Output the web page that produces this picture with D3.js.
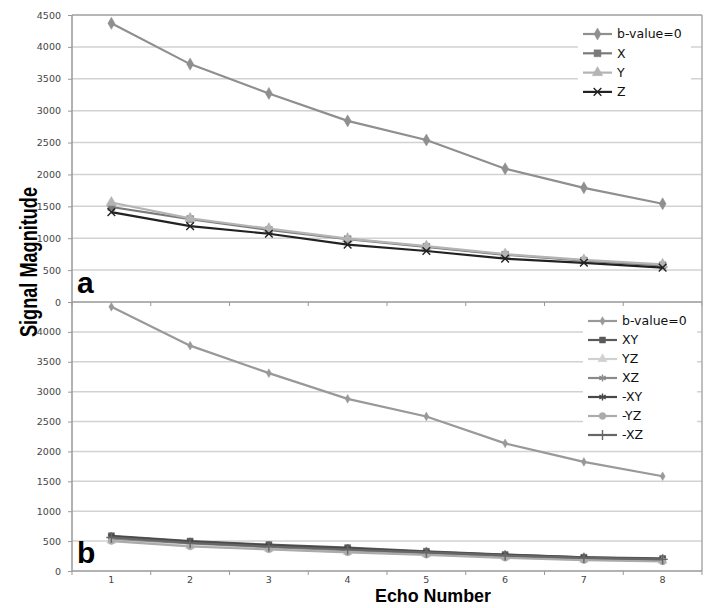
<!DOCTYPE html>
<html>
<head>
<meta charset="utf-8">
<script src="https://cdn.jsdelivr.net/npm/d3@7"></script>
<style>
  body { margin: 0; background: #fff; }
  svg { display: block; }
</style>
</head>
<body>
<div id="chart"></div>
<script>
// Données
const echoNumbers = [1, 2, 3, 4, 5, 6, 7, 8];
const yTicksA = [0, 500, 1000, 1500, 2000, 2500, 3000, 3500, 4000, 4500];
const yTicksB = [0, 500, 1000, 1500, 2000, 2500, 3000, 3500, 4000];

// panneau a
const aB0 = [4370, 3730, 3270, 2840, 2540, 2090, 1790, 1540];
const aX = [1490, 1300, 1130, 985, 865, 740, 650, 575];
const aY = [1560, 1310, 1150, 995, 875, 750, 660, 590];
const aZ = [1410, 1190, 1070, 900, 800, 680, 615, 540];

// panneau b
const bB0 = [4420, 3770, 3310, 2880, 2585, 2135, 1825, 1585];
const bXY = [590, 500, 440, 390, 330, 275, 230, 210];
const bYZ = [510, 420, 370, 320, 280, 230, 190, 170];
const bXZ = [540, 460, 400, 350, 300, 250, 210, 190];
const bNegXY = [580, 490, 430, 380, 320, 270, 230, 200];
const bNegYZ = [500, 410, 360, 310, 270, 220, 180, 160];
const bNegXZ = [560, 470, 410, 360, 310, 260, 220, 195];

const width = 720, height = 608;
const left = 72, right = 702;

const svg = d3.select("#chart").append("svg")
    .attr("width", width)
    .attr("height", height);

const x = d3.scaleBand().domain(echoNumbers).range([left, right]);
const cx = d => x(d) + x.bandwidth() / 2;

const panels = [
    {
        top: 15, bottom: 302, ticks: yTicksA, letter: "a",
        legend: { x: 578, y: 22, w: 113, h: 84, lineX: 583, textX: 617, y0: 34, dy: 19.3 },
        series: [
            { name: "b-value=0", values: aB0, color: "#8f8f8f", symbol: d3.symbolDiamond, size: 42, fill: true },
            { name: "X", values: aX, color: "#7a7a7a", symbol: d3.symbolSquare, size: 48, fill: true },
            { name: "Y", values: aY, color: "#b4b4b4", symbol: d3.symbolTriangle, size: 48, fill: true },
            { name: "Z", values: aZ, color: "#222", symbol: d3.symbolX, size: 40, fill: false }
        ]
    },
    {
        top: 302, bottom: 571, ticks: yTicksB, letter: "b",
        legend: { x: 583, y: 310, w: 114, h: 135, lineX: 588, textX: 622, y0: 321, dy: 19 },
        series: [
            { name: "b-value=0", values: bB0, color: "#999", symbol: d3.symbolDiamond, size: 22, fill: true },
            { name: "XY", values: bXY, color: "#5a5a5a", symbol: d3.symbolSquare, size: 36, fill: true },
            { name: "YZ", values: bYZ, color: "#d0d0d0", symbol: d3.symbolTriangle, size: 36, fill: true },
            { name: "XZ", values: bXZ, color: "#8a8a8a", symbol: d3.symbolAsterisk, size: 36, fill: false },
            { name: "-XY", values: bNegXY, color: "#484848", symbol: d3.symbolAsterisk, size: 36, fill: false },
            { name: "-YZ", values: bNegYZ, color: "#ababab", symbol: d3.symbolCircle, size: 36, fill: true },
            { name: "-XZ", values: bNegXZ, color: "#666", symbol: d3.symbolPlus, size: 36, fill: false }
        ]
    }
];

panels.forEach(p => {
    const y = d3.scaleLinear().domain([0, 4500]).range([p.bottom, p.top]);
    const g = svg.append("g");

    // grille horizontale
    g.selectAll(".grid")
        .data(p.ticks.filter(t => t > 0))
        .enter().append("line")
        .attr("x1", left).attr("x2", right)
        .attr("y1", d => y(d)).attr("y2", d => y(d))
        .style("stroke", "#d2d2d2")
        .style("stroke-width", 1.5);

    // axe Y
    const yAxis = g.append("g")
        .attr("transform", `translate(${left},0)`)
        .call(d3.axisLeft(y).tickValues(p.ticks).tickFormat(d3.format("d")).tickSize(4).tickPadding(7));
    yAxis.select(".domain").remove();
    yAxis.selectAll("line").style("stroke", "#999");
    yAxis.selectAll("text")
        .style("font-family", "DejaVu Sans")
        .style("font-size", "9.5px")
        .style("fill", "#444");

    // axe X (ticks aux limites des catégories)
    const xTicks = d3.range(echoNumbers.length + 1).map(i => left + i * x.bandwidth());
    g.selectAll(".xtick")
        .data(xTicks)
        .enter().append("line")
        .attr("x1", d => d).attr("x2", d => d)
        .attr("y1", p.bottom).attr("y2", p.bottom + 4)
        .style("stroke", "#999");

    // courbes
    const line = d3.line().x((d, i) => cx(echoNumbers[i])).y(d => y(d));
    p.series.forEach(s => {
        g.append("path")
            .datum(s.values)
            .attr("d", line)
            .style("fill", "none")
            .style("stroke", s.color)
            .style("stroke-width", 2.2);
        g.selectAll(null)
            .data(s.values)
            .enter().append("path")
            .attr("transform", (d, i) => `translate(${cx(echoNumbers[i])},${y(d)})`)
            .attr("d", d3.symbol().type(s.symbol).size(s.size))
            .style("fill", s.fill ? s.color : "none")
            .style("stroke", s.color)
            .style("stroke-width", s.fill ? 0.5 : 1.4);
    });

    // légende
    const L = p.legend;
    g.append("rect")
        .attr("x", L.x).attr("y", L.y)
        .attr("width", L.w).attr("height", L.h)
        .style("fill", "#fff");
    p.series.forEach((s, i) => {
        const ly = L.y0 + i * L.dy;
        g.append("line")
            .attr("x1", L.lineX).attr("x2", L.lineX + 29)
            .attr("y1", ly).attr("y2", ly)
            .style("stroke", s.color)
            .style("stroke-width", 2.2);
        g.append("path")
            .attr("transform", `translate(${L.lineX + 14.5},${ly})`)
            .attr("d", d3.symbol().type(s.symbol).size(s.size))
            .style("fill", s.fill ? s.color : "none")
            .style("stroke", s.color)
            .style("stroke-width", s.fill ? 0.5 : 1.4);
        g.append("text")
            .attr("x", L.textX).attr("y", ly)
            .attr("dy", "0.35em")
            .text(s.name)
            .style("font-family", "DejaVu Sans")
            .style("font-size", "12.5px")
            .style("fill", "#111");
    });

    // lettre du panneau
    g.append("text")
        .attr("x", 77).attr("y", p.letter === "a" ? 293 : 563)
        .text(p.letter)
        .style("font-family", "Liberation Sans")
        .style("font-weight", "bold")
        .style("font-size", "30px")
        .style("fill", "#000");
});

// cadre
svg.append("line").attr("x1", left).attr("x2", right).attr("y1", 15).attr("y2", 15)
    .style("stroke", "#aaa").style("stroke-width", 1.5);
svg.append("line").attr("x1", right).attr("x2", right).attr("y1", 15).attr("y2", 571)
    .style("stroke", "#aaa").style("stroke-width", 1.5);
svg.append("line").attr("x1", left).attr("x2", left).attr("y1", 15).attr("y2", 571)
    .style("stroke", "#999").style("stroke-width", 1.5);
[302, 571].forEach(yy => {
    svg.append("line").attr("x1", left).attr("x2", right).attr("y1", yy).attr("y2", yy)
        .style("stroke", "#999").style("stroke-width", 1.5);
});

// labels X
svg.selectAll(".xlabel")
    .data(echoNumbers)
    .enter().append("text")
    .attr("x", d => cx(d)).attr("y", 580)
    .attr("dy", "0.35em")
    .attr("text-anchor", "middle")
    .text(d => d)
    .style("font-family", "DejaVu Sans")
    .style("font-size", "9.5px")
    .style("fill", "#444");

// titres
svg.append("text")
    .attr("x", 433).attr("y", 602)
    .attr("text-anchor", "middle")
    .attr("textLength", 116)
    .attr("lengthAdjust", "spacingAndGlyphs")
    .text("Echo Number")
    .style("font-family", "Liberation Sans")
    .style("font-weight", "bold")
    .style("font-size", "19px");

svg.append("text")
    .attr("transform", "translate(37,262) rotate(-90)")
    .attr("text-anchor", "middle")
    .attr("textLength", 150)
    .attr("lengthAdjust", "spacingAndGlyphs")
    .text("Signal Magnitude")
    .style("font-family", "Liberation Sans")
    .style("font-weight", "bold")
    .style("font-size", "24px");
</script>
</body>
</html>
